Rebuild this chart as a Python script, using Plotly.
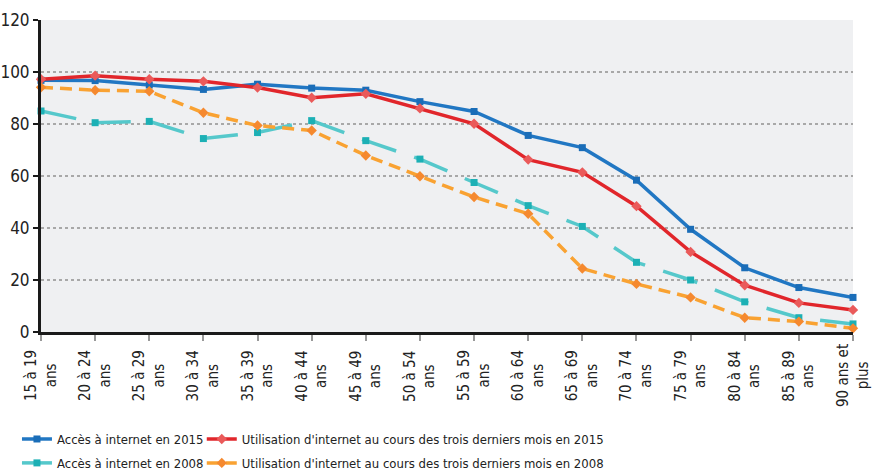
import plotly.graph_objects as go

categories = ["15 à 19<br>ans", "20 à 24<br>ans", "25 à 29<br>ans", "30 à 34<br>ans",
              "35 à 39<br>ans", "40 à 44<br>ans", "45 à 49<br>ans", "50 à 54<br>ans",
              "55 à 59<br>ans", "60 à 64<br>ans", "65 à 69<br>ans", "70 à 74<br>ans",
              "75 à 79<br>ans", "80 à 84<br>ans", "85 à 89<br>ans", "90 ans et<br>plus"]

acces_2015 = [96.8, 96.7, 95.0, 93.3, 95.3, 93.8, 93.0, 88.6, 84.8, 75.6, 70.9, 58.4, 39.5, 24.7, 17.1, 13.3]
util_2015 = [97.2, 98.6, 97.2, 96.4, 94.0, 90.1, 91.6, 86.0, 80.1, 66.3, 61.4, 48.4, 30.8, 18.0, 11.2, 8.5]
acces_2008 = [85.0, 80.5, 81.0, 74.4, 76.7, 81.3, 73.6, 66.5, 57.5, 48.6, 40.6, 26.8, 20.0, 11.6, 5.5, 3.1]
util_2008 = [94.1, 93.0, 92.6, 84.3, 79.4, 77.5, 67.9, 59.9, 51.9, 45.5, 24.4, 18.5, 13.3, 5.5, 4.0, 1.4]

names = ["Accès à internet en 2015",
         "Utilisation d'internet au cours des trois derniers mois en 2015",
         "Accès à internet en 2008",
         "Utilisation d'internet au cours des trois derniers mois en 2008"]

FONT = "Liberation Sans Narrow, DejaVu Sans Condensed, Roboto, sans-serif"


def fnt(size):
    return dict(family=FONT, size=size, color="#222")


fig = go.Figure()
fig.add_trace(go.Scatter(x=categories, y=acces_2015, name=names[0], mode="lines+markers",
                         line=dict(color="#2177c3", width=3.5),
                         marker=dict(symbol="square", size=7, color="#1a6db8"),
                         cliponaxis=False, legend="legend", legendgroup="a15"))
fig.add_trace(go.Scatter(x=categories, y=util_2015, name=names[1], mode="lines+markers",
                         line=dict(color="#e1262b", width=3.5),
                         marker=dict(symbol="diamond", size=8, color="#ea5a5a"),
                         cliponaxis=False, legend="legend2", legendgroup="u15"))
fig.add_trace(go.Scatter(x=categories, y=acces_2008, name=names[2], mode="lines+markers",
                         line=dict(color="#55c8cb", width=3.5, dash="36px,19px"),
                         marker=dict(symbol="square", size=7, color="#1cb0b5"),
                         cliponaxis=False, legend="legend", legendgroup="a08"))
fig.add_trace(go.Scatter(x=categories, y=util_2008, name=names[3], mode="lines+markers",
                         line=dict(color="#f9a232", width=3.5, dash="12px,7px"),
                         marker=dict(symbol="diamond", size=8, color="#f5892f"),
                         cliponaxis=False, legend="legend2", legendgroup="u08"))

# x tick labels as centred rotated text at each category
for c in categories:
    fig.add_annotation(x=c, xref="x", y=-0.141, yref="paper", text=c, textangle=-90,
                       showarrow=False, xanchor="center", yanchor="middle", align="center",
                       font=fnt(15))

fig.update_layout(
    width=876, height=472,
    margin=dict(l=41, r=23, t=20, b=140, autoexpand=False),
    paper_bgcolor="white", plot_bgcolor="#eff0f2",
    font=fnt(13),
    legend=dict(x=-0.0296, xanchor="left", y=-0.295, yanchor="top",
                bgcolor="rgba(0,0,0,0)", font=fnt(13), tracegroupgap=4),
    legend2=dict(x=0.198, xanchor="left", y=-0.295, yanchor="top",
                 bgcolor="rgba(0,0,0,0)", font=fnt(13), tracegroupgap=4),
    showlegend=True,
)
fig.update_xaxes(
    type="category", range=[0, 15], showgrid=False, automargin=False,
    showline=True, linecolor="#1a1a1a", linewidth=3,
    ticks="outside", ticklen=6, tickwidth=2, tickcolor="#999",
    showticklabels=False, zeroline=False,
)
fig.update_yaxes(
    range=[0, 120], dtick=20, showgrid=True, gridcolor="#a8a8a8", gridwidth=1.5,
    griddash="dot", showline=True, linecolor="#1a1a1a", linewidth=3, automargin=False,
    ticks="outside", ticklen=5, tickwidth=2, tickcolor="#1a1a1a",
    tickfont=fnt(17), zeroline=False,
)

fig.write_html("out.html", config={"displayModeBar": False},
               post_script="document.body.style.margin='0';document.body.style.overflow='hidden';")
